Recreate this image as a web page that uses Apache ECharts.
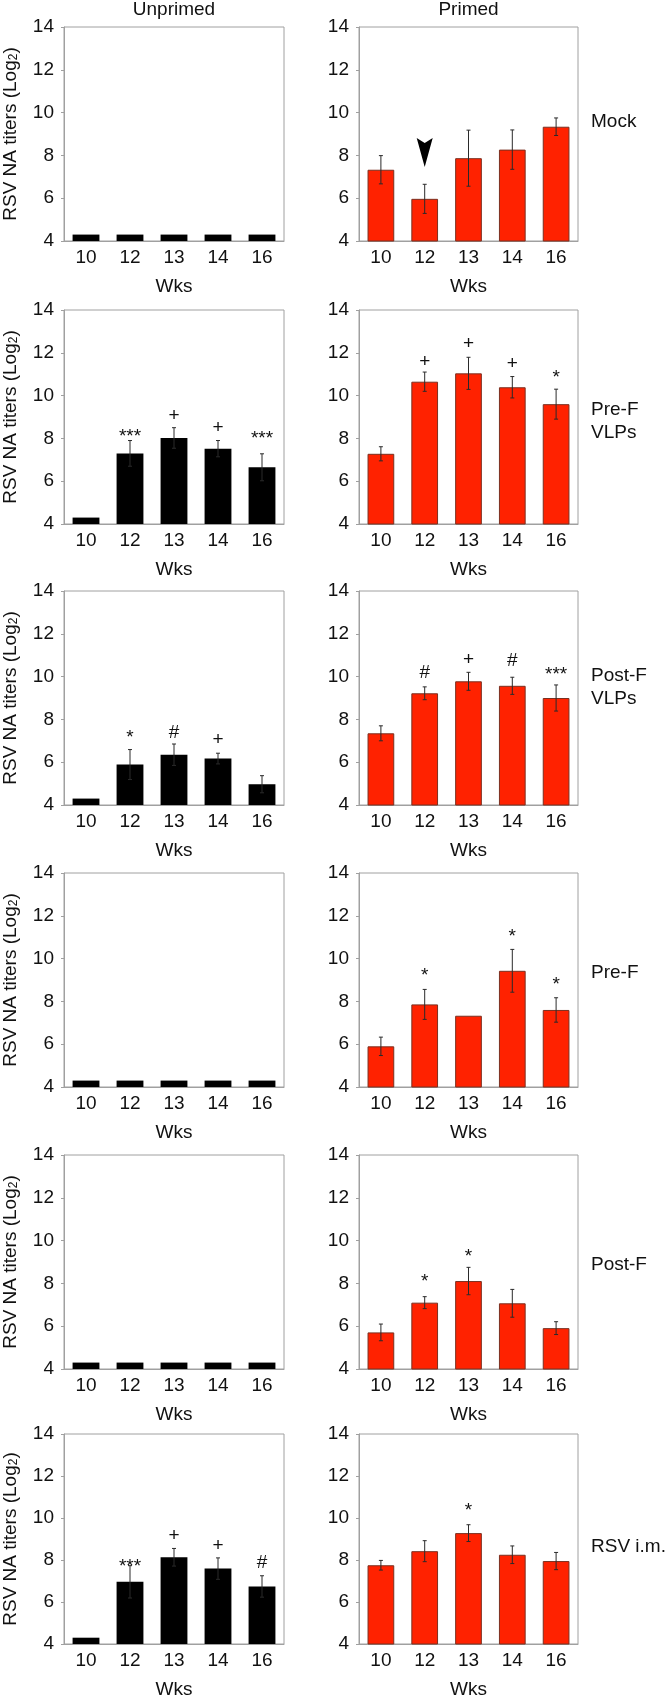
<!DOCTYPE html>
<html>
<head>
<meta charset="utf-8">
<script src="https://cdn.jsdelivr.net/npm/echarts@6/dist/echarts.min.js"></script>
<style>
html,body{margin:0;padding:0;background:#fff;}
#chart{width:666px;height:1700px;}
</style>
</head>
<body>
<div id="chart"></div>
<script>
// ---------- DATA ----------
const weeks = ['10', '12', '13', '14', '16'];
const groups = ['Mock', 'Pre-F\nVLPs', 'Post-F\nVLPs', 'Pre-F', 'Post-F', 'RSV i.m.'];
const columnTitles = ['Unprimed', 'Primed'];
const yTicks = [4, 6, 8, 10, 12, 14];

// Unprimed means / errors
const unprimedMock     = [4.3, 4.3, 4.3, 4.3, 4.3];
const unprimedMockErr  = [0, 0, 0, 0, 0];
const unprimedPreFVLP    = [4.3, 7.3, 8.02, 7.52, 6.65];
const unprimedPreFVLPErr = [0, 0.6, 0.48, 0.38, 0.63];
const unprimedPostFVLP    = [4.3, 5.89, 6.35, 6.17, 4.97];
const unprimedPostFVLPErr = [0, 0.7, 0.5, 0.25, 0.4];
const unprimedPreF     = [4.3, 4.3, 4.3, 4.3, 4.3];
const unprimedPreFErr  = [0, 0, 0, 0, 0];
const unprimedPostF    = [4.3, 4.3, 4.3, 4.3, 4.3];
const unprimedPostFErr = [0, 0, 0, 0, 0];
const unprimedRSV    = [4.3, 6.96, 8.13, 7.59, 6.74];
const unprimedRSVErr = [0, 0.77, 0.42, 0.51, 0.51];

// Primed means / errors
const primedMock     = [7.33, 5.97, 7.87, 8.27, 9.34];
const primedMockErr  = [0.66, 0.68, 1.31, 0.92, 0.41];
const primedPreFVLP    = [7.28, 10.65, 11.04, 10.39, 9.6];
const primedPreFVLPErr = [0.33, 0.45, 0.75, 0.5, 0.7];
const primedPostFVLP    = [7.35, 9.22, 9.78, 9.57, 9.0];
const primedPostFVLPErr = [0.35, 0.3, 0.42, 0.4, 0.61];
const primedPreF     = [5.9, 7.86, 7.33, 9.43, 7.6];
const primedPreFErr  = [0.43, 0.7, 0, 1.0, 0.57];
const primedPostF    = [5.71, 7.1, 8.11, 7.07, 5.91];
const primedPostFErr = [0.39, 0.28, 0.64, 0.65, 0.3];
const primedRSV    = [7.75, 8.42, 9.28, 8.25, 7.95];
const primedRSVErr = [0.23, 0.5, 0.4, 0.42, 0.41];

// Significance marks: [week index, value height, text]
const unprimedPreFVLPMarks    = [[1, 8.24, '***'], [2, 9.06, '+'], [3, 8.5, '+'], [4, 8.16, '***']];
const unprimedPostFVLPMarks   = [[1, 7.32, '*'], [2, 7.36, '#'], [3, 7.04, '+']];
const unprimedRSVMarks        = [[1, 7.89, '***'], [2, 9.15, '+'], [3, 8.69, '+'], [4, 7.86, '#']];
const primedPreFVLPMarks      = [[1, 11.58, '+'], [2, 12.41, '+'], [3, 11.51, '+'], [4, 11.04, '*']];
const primedPostFVLPMarks     = [[1, 10.17, '#'], [2, 10.79, '+'], [3, 10.74, '#'], [4, 10.28, '***']];
const primedPreFMarks         = [[1, 9.4, '*'], [3, 11.2, '*'], [4, 8.98, '*']];
const primedPostFMarks        = [[1, 8.24, '*'], [2, 9.45, '*']];
const primedRSVMarks          = [[2, 10.52, '*']];

// Arrowhead in Primed / Mock panel: [week index, top value, tip value]
const mockArrow = [[1, 8.81, 7.46]];

// ---------- PANELS ----------
const panels = [
  [ {m: unprimedMock, e: unprimedMockErr, marks: []}, {m: primedMock, e: primedMockErr, marks: [], arrow: mockArrow} ],
  [ {m: unprimedPreFVLP, e: unprimedPreFVLPErr, marks: unprimedPreFVLPMarks}, {m: primedPreFVLP, e: primedPreFVLPErr, marks: primedPreFVLPMarks} ],
  [ {m: unprimedPostFVLP, e: unprimedPostFVLPErr, marks: unprimedPostFVLPMarks}, {m: primedPostFVLP, e: primedPostFVLPErr, marks: primedPostFVLPMarks} ],
  [ {m: unprimedPreF, e: unprimedPreFErr, marks: []}, {m: primedPreF, e: primedPreFErr, marks: primedPreFMarks} ],
  [ {m: unprimedPostF, e: unprimedPostFErr, marks: []}, {m: primedPostF, e: primedPostFErr, marks: primedPostFMarks} ],
  [ {m: unprimedRSV, e: unprimedRSVErr, marks: unprimedRSVMarks}, {m: primedRSV, e: primedRSVErr, marks: primedRSVMarks} ]
];

// ---------- LAYOUT / STYLE ----------
const FONT = "'Liberation Sans', Arial, Helvetica, sans-serif";
const FS = 19;
const rowTops = [27, 310, 591, 873, 1155, 1434];
const colLeft = [64, 359];
const colWidth = [220, 219];
const plotH = 214;
const labelY = [122, 421, 687, 973, 1265, 1547];
const AXIS = '#a0a0a0';
const TXT = '#111';
const RED = '#ff2200';

const grids = [], xAxes = [], yAxes = [], series = [], graphics = [];

panels.forEach((row, r) => {
  row.forEach((p, c) => {
    const idx = grids.length;
    grids.push({left: colLeft[c], top: rowTops[r], width: colWidth[c], height: plotH,
      show: true, borderColor: AXIS, borderWidth: 1, backgroundColor: 'transparent'});
    xAxes.push({gridIndex: idx, type: 'category', data: weeks,
      axisTick: {show: false},
      axisLine: {show: true, lineStyle: {color: AXIS, width: 1}},
      axisLabel: {fontSize: FS, color: TXT, margin: 7, fontFamily: FONT},
      name: 'Wks', nameLocation: 'middle', nameGap: 36,
      nameTextStyle: {fontSize: FS, color: TXT, fontFamily: FONT}});
    const ya = {gridIndex: idx, type: 'value', min: yTicks[0], max: yTicks[yTicks.length - 1], interval: 2,
      splitLine: {show: false},
      axisLine: {show: true, lineStyle: {color: AXIS, width: 1}},
      axisTick: {show: true, length: 3, lineStyle: {color: AXIS}},
      axisLabel: {fontSize: FS, color: TXT, margin: 10, fontFamily: FONT}};
    if (c === 0) {
      ya.name = '{a|RSV NA titers (Log}{s|2}{a|)}';
      ya.nameLocation = 'middle';
      ya.nameGap = 44;
      ya.nameRotate = 90;
      ya.nameTextStyle = {rich: {
        a: {fontSize: FS, color: TXT, fontFamily: FONT, verticalAlign: 'bottom', lineHeight: 22},
        s: {fontSize: 12, color: TXT, fontFamily: FONT, verticalAlign: 'bottom', lineHeight: 16}
      }};
    }
    yAxes.push(ya);

    series.push({type: 'bar', xAxisIndex: idx, yAxisIndex: idx, data: p.m, barWidth: '61%',
      itemStyle: c === 0 ? {color: '#000'} : {color: RED, borderColor: '#7a3020', borderWidth: 1},
      silent: true, z: 2});

    const errData = [];
    p.e.forEach((e, j) => { if (e > 0) errData.push([j, p.m[j] - e, p.m[j] + e]); });
    series.push({type: 'custom', xAxisIndex: idx, yAxisIndex: idx, data: errData, z: 3, silent: true,
      clip: true,
      renderItem: (params, api) => {
        const x = api.value(0);
        const lo = api.coord([x, api.value(1)]);
        const hi = api.coord([x, api.value(2)]);
        const w = 2;
        const st = {stroke: '#2a2a2a', lineWidth: 1};
        return {type: 'group', children: [
          {type: 'line', shape: {x1: lo[0], y1: lo[1], x2: hi[0], y2: hi[1]}, style: st},
          {type: 'line', shape: {x1: lo[0] - w, y1: lo[1], x2: lo[0] + w, y2: lo[1]}, style: st},
          {type: 'line', shape: {x1: hi[0] - w, y1: hi[1], x2: hi[0] + w, y2: hi[1]}, style: st}
        ]};
      }});

    if (p.marks.length) {
      const mk = p.marks;
      series.push({type: 'custom', xAxisIndex: idx, yAxisIndex: idx, z: 4, silent: true,
        data: mk.map(d => [d[0], d[1]]),
        renderItem: (params, api) => {
          const pt = api.coord([api.value(0), api.value(1)]);
          const t = mk[params.dataIndex][2];
          const dy = t.indexOf('*') >= 0 ? 4 : 0;
          return {type: 'text', x: pt[0], y: pt[1] + dy,
            style: {text: t, fontSize: FS, fontFamily: FONT, fill: TXT, align: 'center', verticalAlign: 'middle'}};
        }});
    }
    if (p.arrow) {
      series.push({type: 'custom', xAxisIndex: idx, yAxisIndex: idx, z: 4, silent: true,
        data: p.arrow,
        renderItem: (params, api) => {
          const x = api.value(0);
          const top = api.coord([x, api.value(1)]);
          const tip = api.coord([x, api.value(2)]);
          const hw = 8;
          return {type: 'polygon', shape: {points: [
            [top[0] - hw, top[1]], [top[0], top[1] + 5], [top[0] + hw, top[1]], [tip[0], tip[1]]
          ]}, style: {fill: '#000'}};
        }});
    }
  });
  graphics.push({type: 'text', x: 591, y: labelY[r],
    style: {text: groups[r], fontSize: FS, fontFamily: FONT, fill: TXT, align: 'left', verticalAlign: 'middle', lineHeight: 23}});
});

columnTitles.forEach((t, c) => {
  graphics.push({type: 'text', x: colLeft[c] + colWidth[c] / 2, y: 10,
    style: {text: t, fontSize: FS, fontFamily: FONT, fill: TXT, align: 'center', verticalAlign: 'middle'}});
});

const chart = echarts.init(document.getElementById('chart'), null, {renderer: 'canvas'});
chart.setOption({
  animation: false,
  backgroundColor: '#fff',
  grid: grids, xAxis: xAxes, yAxis: yAxes, series: series, graphic: graphics
});
</script>
</body>
</html>
